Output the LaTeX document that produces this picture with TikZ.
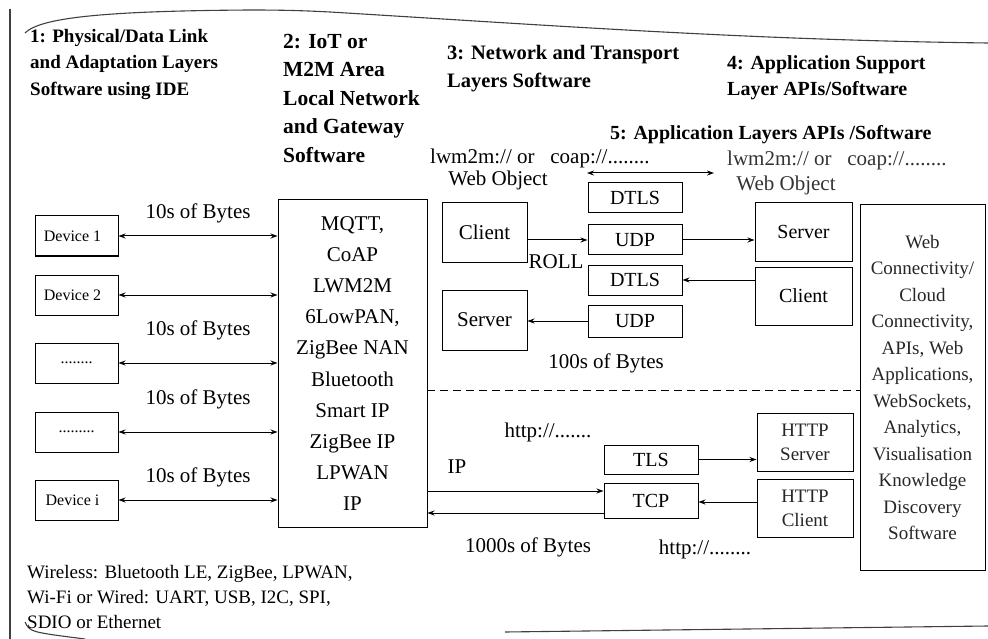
\documentclass[tikz,border=0pt]{standalone}
\usepackage{fontspec}
\setmainfont{Liberation Serif}
\usetikzlibrary{arrows.meta}
\begin{document}
\begin{tikzpicture}[x=1pt,y=-1pt,
  box/.style={draw,line width=1pt,inner sep=0pt,align=center},
  lbl/.style={font=\fontsize{21}{24}\selectfont,inner sep=0pt},
  dev/.style={box,minimum width=83pt,minimum height=40pt,font=\fontsize{16}{18}\selectfont},
  ttl/.style={align=left,anchor=north west,inner sep=0pt},
  tip/.style={line width=1pt,-{Stealth[length=7pt,width=5pt]}},
  dtip/.style={line width=1pt,{Stealth[length=7pt,width=5pt]}-{Stealth[length=7pt,width=5pt]}},
  frame/.style={line width=1.1pt,black!75}]
\useasboundingbox (0,0) rectangle (988,639);
% page frame
\draw[frame] (10,9) -- (10,639);
\draw[frame] (25,33) .. controls (40,18) and (100,11) .. (250,10) .. controls (290,10) and (310,11) .. (330,12) .. controls (560,26) and (750,40) .. (988,43);
\draw[frame] (25,622) .. controls (30,632) .. (85,639);
\draw[frame] (505,632) -- (988,626);
% titles
\node[ttl,font=\fontsize{19}{26.5}\selectfont\bfseries] (t1) at (30,29) {1: Physical/Data Link\\and Adaptation Layers\\Software using IDE};
\node[ttl,font=\fontsize{21.5}{28.5}\selectfont\bfseries] (t2) at (283,34) {2: IoT or\\M2M Area\\Local Network\\and Gateway\\Software};
\node[ttl,font=\fontsize{20.5}{28}\selectfont\bfseries] (t3) at (447,45) {3: Network and Transport\\Layers Software};
\node[ttl,font=\fontsize{20}{26}\selectfont\bfseries] (t4) at (727,55) {4: Application Support\\Layer APIs/Software};
\node[ttl,font=\fontsize{20}{26}\selectfont\bfseries] (t5) at (610,125) {5: Application Layers APIs /Software};
% devices
\node[dev] (d1) at (76.5,236) {Device 1\hspace{8pt}};
\node[dev] (d2) at (76.5,295) {Device 2\hspace{8pt}};
\node[dev] (d3) at (76.5,363) {........};
\node[dev] (d4) at (76.5,432) {.........};
\node[dev] (d5) at (76.5,500) {Device i\hspace{8pt}};
% gateway box
\node[box,minimum width=149pt,minimum height=327pt,font=\fontsize{21}{31.1}\selectfont] (gw) at (352.5,363.5)
  {MQTT,\\CoAP\\LWM2M\\6LowPAN,\\ZigBee NAN\\Bluetooth\\Smart IP\\ZigBee IP\\LPWAN\\IP};
\foreach \d in {d1,d2,d3,d4,d5}{
  \draw[dtip] (\d.east) -- (gw.west |- \d.east);
}
\node[lbl] (b1) at (198,213) {10s of Bytes};
\node[lbl] (b2) at (198,330) {10s of Bytes};
\node[lbl] (b3) at (198,399) {10s of Bytes};
\node[lbl] (b4) at (198,477) {10s of Bytes};
% network/transport
\node[box,minimum width=85pt,minimum height=59pt,font=\fontsize{21}{24}\selectfont] (cl) at (484.5,232.5) {Client};
\node[box,minimum width=85pt,minimum height=60pt,font=\fontsize{21}{24}\selectfont] (sv) at (484.5,320) {Server};
\node[box,minimum width=94pt,minimum height=30pt,font=\fontsize{20}{24}\selectfont] (dt1) at (635,198) {DTLS};
\node[box,minimum width=94pt,minimum height=30pt,font=\fontsize{20}{24}\selectfont] (u1) at (635,240) {UDP};
\node[box,minimum width=94pt,minimum height=30pt,font=\fontsize{20}{24}\selectfont] (dt2) at (635,280) {DTLS};
\node[box,minimum width=94pt,minimum height=32pt,font=\fontsize{20}{24}\selectfont] (u2) at (635,321) {UDP};
\draw[tip] (cl.east |- u1) -- (u1.west);
\draw[tip] (u2.west) -- (sv.east |- u2);
\node[lbl] (roll) at (556,262) {ROLL};
\node[lbl] (b5) at (606,363) {100s of Bytes};
% application support
\node[box,minimum width=97pt,minimum height=58pt,font=\fontsize{20}{24}\selectfont] (rs) at (803.5,232) {Server};
\node[box,minimum width=97pt,minimum height=58pt,font=\fontsize{20}{24}\selectfont] (rc) at (803.5,296) {Client};
\draw[tip] (u1.east) -- (rs.west |- u1);
\draw[tip] (rc.west |- dt2) -- (dt2.east);
% application box
\node[box,minimum width=125pt,minimum height=365pt,font=\fontsize{19}{26.45}\selectfont,text=black!85] (app) at (922.5,387.5)
  {Web\\Connectivity/\\Cloud\\Connectivity,\\APIs, Web\\Applications,\\WebSockets,\\Analytics,\\Visualisation\\Knowledge\\Discovery\\Software};
% web object labels
\node[lbl,anchor=west] (lw1) at (430,158) {lwm2m:// or\enspace\ coap://........};
\node[lbl] (wo1) at (498,180) {Web Object};
\node[lbl,anchor=west,text=black!80] (lw2) at (727,160) {lwm2m:// or\enspace\ coap://........};
\node[lbl,text=black!80] (wo2) at (786,185) {Web Object};
\coordinate (wa) at (587,173);
\coordinate (wb) at (714,173);
\draw[dtip] (wa) -- (wb);
% dashed separator
\coordinate (ds1) at (427,390);
\coordinate (ds2) at (860,390);
\draw[line width=1pt,dashed,dash pattern=on 8pt off 5pt] (ds1) -- (ds2);
% HTTP part
\node[box,minimum width=94pt,minimum height=29pt,font=\fontsize{20}{24}\selectfont] (tls) at (651,459.5) {TLS};
\node[box,minimum width=94pt,minimum height=35pt,font=\fontsize{20}{24}\selectfont] (tcp) at (651,501) {TCP};
\node[box,minimum width=96pt,minimum height=58pt,font=\fontsize{19}{24}\selectfont,text=black!85] (hs) at (805,442) {HTTP\\Server};
\node[box,minimum width=96pt,minimum height=58pt,font=\fontsize{19}{24}\selectfont,text=black!85] (hc) at (805,508) {HTTP\\Client};
\draw[tip] (tls.east) -- (hs.west |- tls);
\draw[tip] (hc.west |- 0,502) -- (tcp.east |- 0,502);
\draw[tip] (gw.east |- 0,491) -- (tcp.west |- 0,491);
\draw[tip] (tcp.west |- 0,513) -- (gw.east |- 0,513);
\node[lbl] (h1) at (548,432) {http://.......};
\node[lbl] (ip) at (457,467) {IP};
\node[lbl] (b6) at (528,547) {1000s of Bytes};
\node[lbl] (h2) at (705,549) {http://........};
% bottom note
\node[ttl,font=\fontsize{19}{25}\selectfont] (note) at (27,565) {Wireless: Bluetooth LE, ZigBee, LPWAN,\\Wi-Fi or Wired: UART, USB, I2C, SPI,\\SDIO or Ethernet};
\end{tikzpicture}
\end{document}
